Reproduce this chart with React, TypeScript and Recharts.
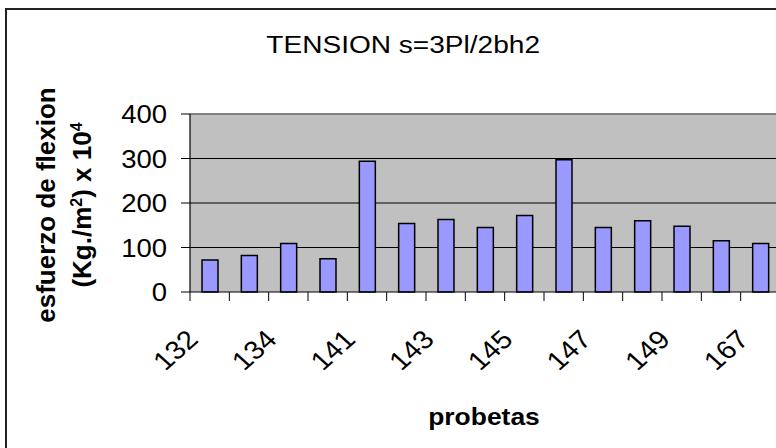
import React from 'react';
import { BarChart, Bar, XAxis, YAxis, CartesianGrid, ReferenceLine } from 'recharts';

const categories = ['132', '133', '134', '140', '141', '142', '143', '144', '145', '146', '147', '148', '149', '166', '167'];
const esfuerzo = [72, 82, 109, 75, 294, 154, 163, 145, 172, 297, 145, 160, 148, 115, 109];
const yTicks = [0, 100, 200, 300, 400];
const gridValues = [100, 200, 300];

const data = categories.map((c, i) => ({ probeta: c, esfuerzo: esfuerzo[i] }));

const FONT = '"Liberation Sans", Arial, Helvetica, sans-serif';
const CHART_W = 800;
const CHART_H = 448;
const MARGIN = { top: 114, right: 20, left: 0, bottom: 0 };
const Y_AXIS_W = 190;
const PLOT_W = CHART_W - MARGIN.right - MARGIN.left - Y_AXIS_W;
const BAND = PLOT_W / categories.length;

const XTick = (props: any) => {
  const { x, y, payload, index } = props;
  const lx = x - BAND / 2;
  return (
    <g>
      <line x1={lx} y1={y} x2={lx} y2={y + 9} stroke="#000" strokeWidth={1} />
      {index % 2 === 0 && (
        <text
          x={0}
          y={0}
          transform={`translate(${x - 10},${y + 49}) scale(1.12,1) rotate(-45)`}
          textAnchor="end"
          fontSize={26}
          fontFamily={FONT}
          fill="#000"
        >
          {payload.value}
        </text>
      )}
    </g>
  );
};

const YTick = (props: any) => {
  const { x, y, payload } = props;
  return (
    <text
      x={0}
      y={0}
      dy="0.36em"
      transform={`translate(${x},${y}) scale(1.1,1)`}
      textAnchor="end"
      fontSize={25}
      fontFamily={FONT}
      fill="#000"
    >
      {payload.value}
    </text>
  );
};

const YLabel = () => (
  <g fontFamily={FONT} fontWeight="bold" fill="#000">
    <text x={0} y={0} transform="translate(55,205) rotate(-90)" textAnchor="middle" fontSize={26}>
      esfuerzo de flexion
    </text>
    <text x={0} y={0} transform="translate(91,205) rotate(-90)" textAnchor="middle" fontSize={26}>
      (Kg./m
      <tspan dy={-9} fontSize={16}>2</tspan>
      <tspan dy={9}>) x 10</tspan>
      <tspan dy={-9} fontSize={16}>4</tspan>
    </text>
  </g>
);

const XLabel = () => (
  <text
    x={0}
    y={0}
    transform="translate(484,425) scale(1.15,1)"
    textAnchor="middle"
    fontSize={23}
    fontWeight="bold"
    fontFamily={FONT}
    fill="#000"
  >
    probetas
  </text>
);

export default function App() {
  return (
    <div style={{ position: 'fixed', left: 0, top: 0, width: 776, height: 448, overflow: 'hidden', background: '#fff' }}>
      <div
        style={{
          position: 'absolute',
          left: 5,
          top: 8,
          width: 900,
          height: 600,
          border: '2px solid #222',
          boxSizing: 'border-box',
        }}
      />
      <div
        style={{
          position: 'absolute',
          left: 0,
          top: 32,
          width: 806,
          textAlign: 'center',
          fontFamily: FONT,
          fontSize: 23,
          color: '#000',
          lineHeight: '26px',
        }}
      >
        <span style={{ display: 'inline-block', transform: 'scale(1.22,1)' }}>TENSION s=3Pl/2bh2</span>
      </div>
      <div style={{ position: 'absolute', left: 0, top: 0 }}>
        <BarChart width={CHART_W} height={CHART_H} data={data} margin={MARGIN}>
          <CartesianGrid
            fill="#C0C0C0"
            vertical={false}
            horizontalValues={gridValues}
            stroke="#000"
            strokeOpacity={1}
            strokeWidth={1.2}
          />
          <ReferenceLine y={400} stroke="#808080" strokeWidth={2} />
          <XAxis
            dataKey="probeta"
            height={156}
            interval={0}
            tickLine={false}
            tickSize={0}
            tickMargin={0}
            axisLine={{ stroke: '#000', strokeWidth: 1.2 }}
            tick={<XTick />}
            label={<XLabel />}
          />
          <YAxis
            width={Y_AXIS_W}
            domain={[0, 400]}
            ticks={yTicks}
            interval={0}
            tickSize={9}
            tickMargin={14}
            axisLine={{ stroke: '#000', strokeWidth: 1.2 }}
            tickLine={{ stroke: '#000', strokeWidth: 1 }}
            tick={<YTick />}
            label={<YLabel />}
          />
          <Bar dataKey="esfuerzo" fill="#9999FF" stroke="#000" strokeWidth={1.5} barSize={16} isAnimationActive={false} />
        </BarChart>
      </div>
    </div>
  );
}
